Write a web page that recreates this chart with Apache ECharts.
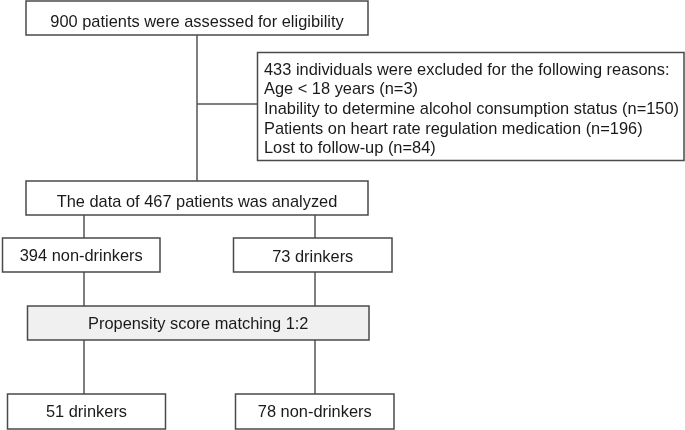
<!DOCTYPE html>
<html>
<head>
<meta charset="utf-8">
<script src="https://cdn.jsdelivr.net/npm/echarts@6/dist/echarts.min.js"></script>
<style>html,body{margin:0;padding:0;background:#fff}#c{width:685px;height:430px}</style>
</head>
<body>
<div id="c"></div>
<script>
// ---- data ----
const assessed = 900;
const excluded = 433;
const exclusionReasons = ["Age < 18 years", "Inability to determine alcohol consumption status", "Patients on heart rate regulation medication", "Lost to follow-up"];
const exclusionCounts = [3, 150, 196, 84];
const analyzed = 467;
const groupNames = ["non-drinkers", "drinkers"];
const groupCounts = [394, 73];
const matchingRatio = "1:2";
const matchedNames = ["drinkers", "non-drinkers"];
const matchedCounts = [51, 78];

// ---- texts built from data ----
const boxTexts = [
  assessed + " patients were assessed for eligibility",
  [excluded + " individuals were excluded for the following reasons:"]
    .concat(exclusionReasons.map((r, i) => r + " (n=" + exclusionCounts[i] + ")")).join("\n"),
  "The data of " + analyzed + " patients was analyzed",
  groupCounts[0] + " " + groupNames[0],
  groupCounts[1] + " " + groupNames[1],
  "Propensity score matching " + matchingRatio,
  matchedCounts[0] + " " + matchedNames[0],
  matchedCounts[1] + " " + matchedNames[1]
];

// ---- layout (x0, y0, x1, y1 in page units), separate from data ----
const boxLayout = [
  [26, 1, 368, 35],
  [257.5, 52.5, 684, 160.5],
  [26, 181, 368, 215],
  [2.5, 238, 160, 272],
  [233.5, 238, 392, 272],
  [27.5, 306, 369, 340],
  [7.5, 394, 165.5, 429],
  [235.5, 394, 394, 429]
];
const textDy = [4.5, 0, 4, 1, 2.5, 1.5, 1, 1];
const boxFill = ["#fff", "#fff", "#fff", "#fff", "#fff", "#f0f0f0", "#fff", "#fff"];
const connectorLayout = [
  [[197, 35], [197, 181]],
  [[197, 104], [257.5, 104]],
  [[84, 215], [84, 238]],
  [[315, 215], [315, 238]],
  [[84, 272], [84, 306]],
  [[315, 272], [315, 306]],
  [[84, 340], [84, 394]],
  [[315, 340], [315, 394]]
];

const FONT = '"Liberation Sans", Arial, sans-serif';
const FS = 16.4;
const chart = echarts.init(document.getElementById('c'), null, {renderer: 'canvas'});
chart.setOption({
  animation: false,
  grid: {left: 0, right: 0, top: 0, bottom: 0},
  xAxis: {type: 'value', min: 0, max: 685, show: false},
  yAxis: {type: 'value', min: 0, max: 430, inverse: true, show: false},
  series: [
    {
      type: 'custom',
      coordinateSystem: 'cartesian2d',
      data: connectorLayout.map((c, i) => [i]),
      renderItem: function (params, api) {
        const c = connectorLayout[params.dataIndex];
        const p0 = api.coord(c[0]), p1 = api.coord(c[1]);
        return {
          type: 'line',
          shape: {x1: p0[0], y1: p0[1], x2: p1[0], y2: p1[1]},
          style: {stroke: '#555', lineWidth: 1.5}
        };
      },
      silent: true
    },
    {
      type: 'custom',
      coordinateSystem: 'cartesian2d',
      data: boxTexts.map((t, i) => [i]),
      renderItem: function (params, api) {
        const i = params.dataIndex;
        const b = boxLayout[i];
        const p0 = api.coord([b[0], b[1]]), p1 = api.coord([b[2], b[3]]);
        const w = p1[0] - p0[0], h = p1[1] - p0[1];
        const multi = i === 1;
        return {
          type: 'group',
          children: [
            {
              type: 'rect',
              shape: {x: p0[0], y: p0[1], width: w, height: h},
              style: {fill: boxFill[i], stroke: '#4a4a4a', lineWidth: 1.5}
            },
            {
              type: 'text',
              x: multi ? p0[0] + 6.5 : p0[0] + w / 2,
              y: multi ? p0[1] + 8 : p0[1] + h / 2 + textDy[i],
              style: {
                text: boxTexts[i],
                fill: '#1a1a1a',
                font: FS + 'px ' + FONT,
                fontSize: FS,
                fontFamily: FONT,
                align: multi ? 'left' : 'center',
                verticalAlign: multi ? 'top' : 'middle',
                lineHeight: 19.6
              }
            }
          ]
        };
      },
      silent: true
    }
  ]
});
</script>
</body>
</html>
